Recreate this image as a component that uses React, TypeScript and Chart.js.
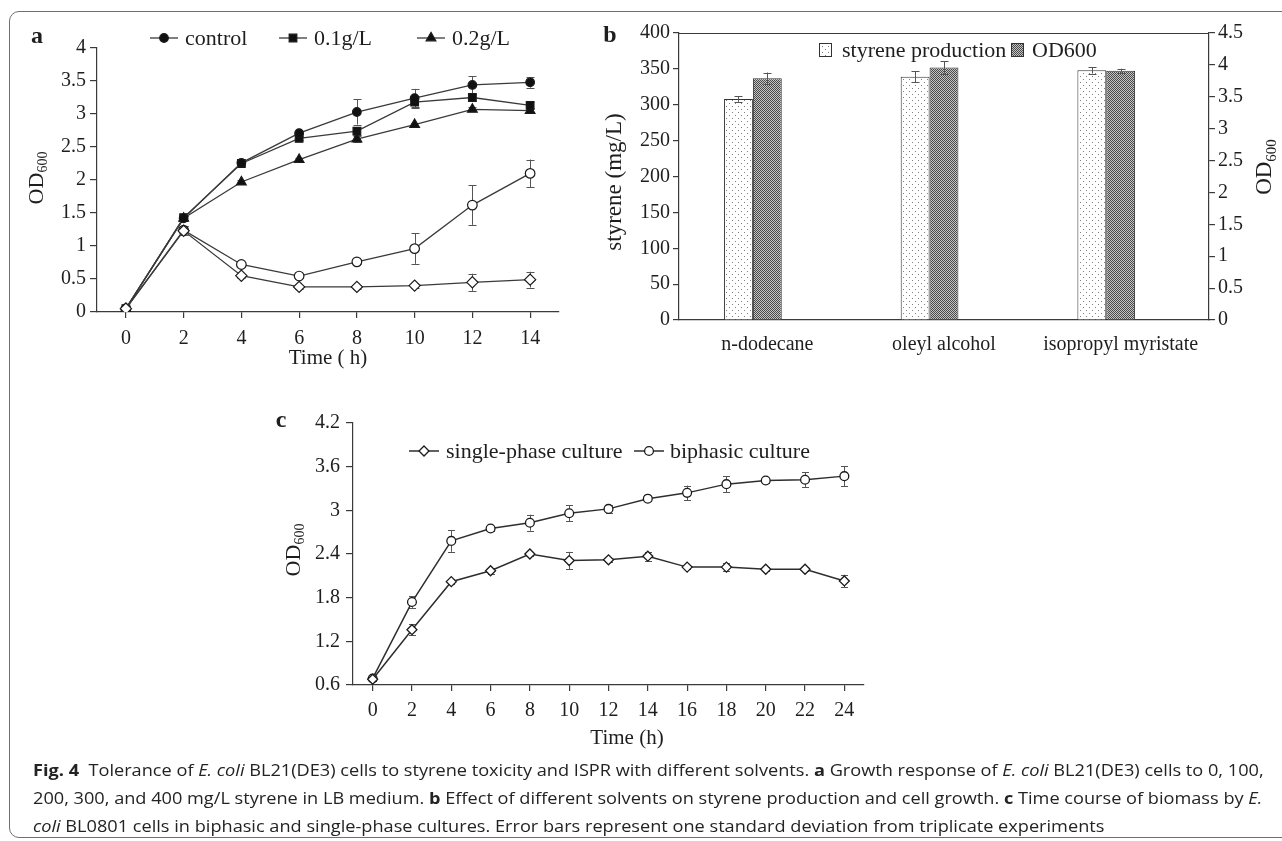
import React, { useEffect, useRef } from 'react';
import { Chart, registerables } from 'chart.js';

Chart.register(...registerables);

const SERIF = "'Liberation Serif', 'Times New Roman', serif";
const INK = '#1e1e1e';
const LINE = '#3a3a3a';
const ERR = '#555555';

// ---------- Panel a ----------
const aTime = [0, 2, 4, 6, 8, 10, 12, 14];
const aTimeTickLabels = ['0', '2', '4', '6', '8', '10', '12', '14'];
const aODTicks = [0, 0.5, 1, 1.5, 2, 2.5, 3, 3.5, 4];
const aODTickLabels = ['0', '0.5', '1', '1.5', '2', '2.5', '3', '3.5', '4'];
const aSeriesLabels = ['control', '0.1g/L', '0.2g/L', '0.3g/L', '0.4g/L'];
const aControl = [0.05, 1.42, 2.26, 2.71, 3.03, 3.24, 3.44, 3.48];
const aControlErr = [0.02, 0.03, 0.03, 0.04, 0.19, 0.14, 0.13, 0.08];
const a01 = [0.05, 1.43, 2.25, 2.63, 2.74, 3.18, 3.25, 3.13];
const a01Err = [0.02, 0.03, 0.03, 0.03, 0.06, 0.09, 0.05, 0.05];
const a02 = [0.05, 1.42, 1.97, 2.31, 2.62, 2.84, 3.07, 3.05];
const a02Err = [0.02, 0.03, 0.03, 0.03, 0.04, 0.03, 0.03, 0.04];
const a03 = [0.05, 1.24, 0.72, 0.545, 0.76, 0.96, 1.62, 2.1];
const a03Err = [0.02, 0.07, 0.04, 0.03, 0.04, 0.23, 0.3, 0.21];
const a04 = [0.05, 1.23, 0.55, 0.38, 0.38, 0.4, 0.45, 0.49];
const a04Err = [0.02, 0.07, 0.03, 0.03, 0.03, 0.03, 0.13, 0.12];

// ---------- Panel b ----------
const bSolvents = ['n-dodecane', 'oleyl alcohol', 'isopropyl myristate'];
const bSeriesLabels = ['styrene production', 'OD600'];
const bStyrene = [308, 339, 348];
const bStyreneErr = [4, 7.5, 4.5];
const bOD = [3.79, 3.96, 3.91];
const bODErr = [0.09, 0.1, 0.03];
const bSpacer = [0, 0, 0];
const bStyreneTicks = [0, 50, 100, 150, 200, 250, 300, 350, 400];
const bStyreneTickLabels = ['0', '50', '100', '150', '200', '250', '300', '350', '400'];
const bODTicks = [0, 0.5, 1, 1.5, 2, 2.5, 3, 3.5, 4, 4.5];
const bODTickLabels = ['0', '0.5', '1', '1.5', '2', '2.5', '3', '3.5', '4', '4.5'];

// ---------- Panel c ----------
const cTime = [0, 2, 4, 6, 8, 10, 12, 14, 16, 18, 20, 22, 24];
const cTimeTickLabels = ['0', '2', '4', '6', '8', '10', '12', '14', '16', '18', '20', '22', '24'];
const cODTicks = [0.6, 1.2, 1.8, 2.4, 3, 3.6, 4.2];
const cODTickLabels = ['0.6', '1.2', '1.8', '2.4', '3', '3.6', '4.2'];
const cSeriesLabels = ['single-phase culture', 'biphasic culture'];
const cSingle = [0.68, 1.36, 2.02, 2.17, 2.4, 2.31, 2.32, 2.37, 2.22, 2.22, 2.19, 2.19, 2.03];
const cSingleErr = [0.02, 0.075, 0.03, 0.04, 0.03, 0.12, 0.03, 0.06, 0.03, 0.055, 0.03, 0.03, 0.085];
const cBiphasic = [0.69, 1.74, 2.58, 2.75, 2.83, 2.96, 3.02, 3.16, 3.24, 3.36, 3.41, 3.42, 3.47];
const cBiphasicErr = [0.02, 0.08, 0.15, 0.03, 0.11, 0.11, 0.06, 0.03, 0.1, 0.11, 0.03, 0.1, 0.14];

// ---------- drawing helpers ----------
function drawMarker(ctx: CanvasRenderingContext2D, style: string, x: number, y: number, r: number, fill: any, stroke: string, lw: number) {
  ctx.beginPath();
  if (style === 'rect') {
    const s = r * Math.SQRT1_2;
    ctx.rect(x - s, y - s, 2 * s, 2 * s);
  } else if (style === 'triangle') {
    ctx.moveTo(x, y - r);
    ctx.lineTo(x + r * Math.sin((2 * Math.PI) / 3), y - r * Math.cos((2 * Math.PI) / 3));
    ctx.lineTo(x + r * Math.sin((4 * Math.PI) / 3), y - r * Math.cos((4 * Math.PI) / 3));
    ctx.closePath();
  } else if (style === 'rectRot') {
    ctx.moveTo(x, y - r);
    ctx.lineTo(x + r, y);
    ctx.lineTo(x, y + r);
    ctx.lineTo(x - r, y);
    ctx.closePath();
  } else {
    ctx.arc(x, y, r, 0, Math.PI * 2);
  }
  ctx.fillStyle = fill;
  ctx.fill();
  ctx.lineWidth = lw;
  ctx.strokeStyle = stroke;
  ctx.stroke();
}

type TextItem = { text: string; sub?: string; x: number; y: number; size: number; subSize?: number; bold?: boolean; rotate?: boolean };

function textPlugin(id: string, items: TextItem[]) {
  return {
    id,
    afterDraw(chart: any) {
      const ctx: CanvasRenderingContext2D = chart.ctx;
      ctx.save();
      ctx.fillStyle = INK;
      ctx.textBaseline = 'middle';
      ctx.textAlign = 'left';
      for (const it of items) {
        ctx.save();
        ctx.translate(it.x, it.y);
        if (it.rotate) ctx.rotate(-Math.PI / 2);
        const main = `${it.bold ? 'bold ' : ''}${it.size}px ${SERIF}`;
        const subF = `${it.subSize || 12}px ${SERIF}`;
        ctx.font = main;
        const w1 = ctx.measureText(it.text).width;
        let w2 = 0;
        if (it.sub) {
          ctx.font = subF;
          w2 = ctx.measureText(it.sub).width;
        }
        const x0 = -(w1 + w2) / 2;
        ctx.font = main;
        ctx.fillText(it.text, x0, 0);
        if (it.sub) {
          ctx.font = subF;
          ctx.fillText(it.sub, x0 + w1, it.size * 0.3);
        }
        ctx.restore();
      }
      ctx.restore();
    },
  };
}

function lineLegendPlugin(id: string, items: { ds: number; x1: number; x2: number; tx: number }[], y: number, size: number) {
  return {
    id,
    afterDraw(chart: any) {
      const ctx: CanvasRenderingContext2D = chart.ctx;
      ctx.save();
      for (const it of items) {
        const ds = chart.data.datasets[it.ds];
        ctx.strokeStyle = ds.borderColor;
        ctx.lineWidth = ds.borderWidth;
        ctx.beginPath();
        ctx.moveTo(it.x1, y);
        ctx.lineTo(it.x2, y);
        ctx.stroke();
        drawMarker(ctx, ds.pointStyle, (it.x1 + it.x2) / 2, y, ds.pointRadius, ds.pointBackgroundColor, ds.pointBorderColor, ds.pointBorderWidth);
        ctx.fillStyle = INK;
        ctx.font = `${size}px ${SERIF}`;
        ctx.textAlign = 'left';
        ctx.textBaseline = 'middle';
        ctx.fillText(ds.label, it.tx, y + 1);
      }
      ctx.restore();
    },
  };
}

function boxLegendPlugin(id: string, items: { ds: number; bx: number; tx: number }[], y: number, bw: number, bh: number, size: number) {
  return {
    id,
    afterDraw(chart: any) {
      const ctx: CanvasRenderingContext2D = chart.ctx;
      ctx.save();
      for (const it of items) {
        const ds = chart.data.datasets[it.ds];
        ctx.fillStyle = ds.backgroundColor;
        ctx.fillRect(it.bx, y - bh / 2, bw, bh);
        ctx.strokeStyle = '#333';
        ctx.lineWidth = 1;
        ctx.strokeRect(it.bx + 0.5, y - bh / 2 + 0.5, bw - 1, bh - 1);
        ctx.fillStyle = INK;
        ctx.font = `${size}px ${SERIF}`;
        ctx.textAlign = 'left';
        ctx.textBaseline = 'middle';
        ctx.fillText(ds.label, it.tx, y + 1);
      }
      ctx.restore();
    },
  };
}

function errorBarPlugin(id: string, phase: 'before' | 'after', cap: number) {
  const draw = (chart: any) => {
    const ctx: CanvasRenderingContext2D = chart.ctx;
    ctx.save();
    ctx.strokeStyle = ERR;
    ctx.lineWidth = 1;
    chart.data.datasets.forEach((ds: any, i: number) => {
      if (!ds.errors) return;
      const meta = chart.getDatasetMeta(i);
      const vs = meta.vScale;
      meta.data.forEach((el: any, j: number) => {
        const e = ds.errors[j];
        if (!e) return;
        const p = meta.controller.getParsed(j);
        const v = p[vs.axis];
        const y1 = vs.getPixelForValue(v + e);
        const y2 = vs.getPixelForValue(v - e);
        const x = Math.round(el.x) + 0.5;
        ctx.beginPath();
        ctx.moveTo(x, y1);
        ctx.lineTo(x, y2);
        ctx.moveTo(x - cap, Math.round(y1) + 0.5);
        ctx.lineTo(x + cap, Math.round(y1) + 0.5);
        ctx.moveTo(x - cap, Math.round(y2) + 0.5);
        ctx.lineTo(x + cap, Math.round(y2) + 0.5);
        ctx.stroke();
      });
    });
    ctx.restore();
  };
  return phase === 'before' ? { id, beforeDatasetsDraw: draw } : { id, afterDatasetsDraw: draw };
}

const topFramePlugin = {
  id: 'topFrame',
  afterDraw(chart: any) {
    const ctx: CanvasRenderingContext2D = chart.ctx;
    const { left, right, top } = chart.chartArea;
    ctx.save();
    ctx.strokeStyle = LINE;
    ctx.lineWidth = 1.2;
    ctx.beginPath();
    ctx.moveTo(left, Math.round(top) + 0.5);
    ctx.lineTo(right, Math.round(top) + 0.5);
    ctx.stroke();
    ctx.restore();
  },
};

function dotPattern(): CanvasPattern | string {
  const c = document.createElement('canvas');
  c.width = 6;
  c.height = 6;
  const g = c.getContext('2d');
  if (!g) return '#fff';
  g.fillStyle = '#ffffff';
  g.fillRect(0, 0, 6, 6);
  g.fillStyle = '#808080';
  g.fillRect(1, 1, 1, 1);
  g.fillRect(4, 4, 1, 1);
  return g.createPattern(c, 'repeat') || '#fff';
}

function checkPattern(): CanvasPattern | string {
  const c = document.createElement('canvas');
  c.width = 2;
  c.height = 2;
  const g = c.getContext('2d');
  if (!g) return '#888';
  g.fillStyle = '#c4c4c4';
  g.fillRect(0, 0, 2, 2);
  g.fillStyle = '#4a4a4a';
  g.fillRect(0, 0, 1, 1);
  g.fillRect(1, 1, 1, 1);
  return g.createPattern(c, 'repeat') || '#888';
}

const TICK = 20;
const tickFont = (size: number) => ({ family: SERIF, size });
const axisGrid = (len: number) => ({ drawOnChartArea: false, drawTicks: true, tickLength: len, color: LINE, lineWidth: 1.2 });
const axisBorder = { display: true, color: LINE, width: 1.2 };
const fixedTicks = (vals: number[]) => (s: any) => {
  s.ticks = vals.map((v) => ({ value: v }));
};

// ---------- chart configs ----------
function buildA(): any {
  const mk = (i: number, data: number[], err: number[], style: string, r: number, fill: string, order: number) => ({
    label: aSeriesLabels[i],
    data: data.map((v, k) => ({ x: aTime[k], y: v })),
    errors: err,
    borderColor: LINE,
    borderWidth: 1.3,
    pointStyle: style,
    pointRadius: r,
    pointBackgroundColor: fill,
    pointBorderColor: '#1a1a1a',
    pointBorderWidth: 1.2,
    tension: 0,
    fill: false,
    order,
  });
  return {
    type: 'line',
    data: {
      datasets: [
        mk(0, aControl, aControlErr, 'circle', 4.3, '#111', 2),
        mk(1, a01, a01Err, 'rect', 5.4, '#111', 2),
        mk(2, a02, a02Err, 'triangle', 5.6, '#111', 2),
        mk(3, a03, a03Err, 'circle', 4.8, '#fff', 1),
        mk(4, a04, a04Err, 'rectRot', 5.6, '#fff', 0),
      ],
    },
    options: {
      animation: false,
      responsive: false,
      devicePixelRatio: 1,
      layout: { padding: { top: 48, right: 21, left: 0, bottom: 0 } },
      plugins: { legend: { display: false }, tooltip: { enabled: false } },
      scales: {
        x: {
          type: 'linear',
          min: -1,
          max: 15,
          afterBuildTicks: fixedTicks(aTime),
          afterFit: (s: any) => {
            s.height = 68;
          },
          grid: axisGrid(6),
          border: axisBorder,
          ticks: { font: tickFont(TICK), color: INK, padding: 9, maxRotation: 0, autoSkip: false, callback: (_v: any, i: number) => aTimeTickLabels[i] },
        },
        y: {
          type: 'linear',
          min: 0,
          max: 4,
          afterBuildTicks: fixedTicks(aODTicks),
          afterFit: (s: any) => {
            s.width = 97;
          },
          grid: axisGrid(7),
          border: axisBorder,
          ticks: { font: tickFont(TICK), color: INK, padding: 4, autoSkip: false, callback: (_v: any, i: number) => aODTickLabels[i] },
        },
      },
    },
    plugins: [
      errorBarPlugin('errA', 'before', 4),
      lineLegendPlugin(
        'legA',
        [
          { ds: 0, x1: 150, x2: 178, tx: 185 },
          { ds: 1, x1: 279, x2: 307, tx: 314 },
          { ds: 2, x1: 417, x2: 445, tx: 452 },
        ],
        38,
        22
      ),
      textPlugin('txtA', [
        { text: 'a', x: 37, y: 37, size: 24, bold: true },
        { text: 'OD', sub: '600', x: 37, y: 178, size: 22, subSize: 14, rotate: true },
        { text: 'Time ( h)', x: 328, y: 358, size: 21 },
      ]),
    ],
  };
}

function buildB(): any {
  return {
    type: 'bar',
    data: {
      labels: bSolvents,
      datasets: [
        { label: bSeriesLabels[0], data: bStyrene, errors: bStyreneErr, yAxisID: 'y', backgroundColor: dotPattern(), borderColor: '#333', borderWidth: 1 },
        { label: bSeriesLabels[1], data: bOD, errors: bODErr, yAxisID: 'y1', backgroundColor: checkPattern(), borderColor: '#333', borderWidth: 1 },
        { label: '', data: bSpacer, yAxisID: 'y', backgroundColor: 'rgba(0,0,0,0)', borderColor: 'rgba(0,0,0,0)', borderWidth: 0 },
      ],
    },
    options: {
      animation: false,
      responsive: false,
      devicePixelRatio: 1,
      categoryPercentage: 0.49,
      barPercentage: 1,
      layout: { padding: { top: 33, right: 13, left: 0, bottom: 0 } },
      plugins: { legend: { display: false }, tooltip: { enabled: false } },
      scales: {
        x: {
          afterFit: (s: any) => {
            s.height = 60;
          },
          grid: { display: false, drawTicks: false },
          border: axisBorder,
          ticks: { font: tickFont(TICK), color: INK, padding: 13, maxRotation: 0, autoSkip: false },
        },
        y: {
          position: 'left',
          min: 0,
          max: 400,
          afterBuildTicks: fixedTicks(bStyreneTicks),
          afterFit: (s: any) => {
            s.width = 119;
          },
          grid: axisGrid(6),
          border: axisBorder,
          ticks: { font: tickFont(TICK), color: INK, padding: 3, autoSkip: false, callback: (_v: any, i: number) => bStyreneTickLabels[i] },
        },
        y1: {
          position: 'right',
          min: 0,
          max: 4.5,
          afterBuildTicks: fixedTicks(bODTicks),
          afterFit: (s: any) => {
            s.width = 60;
          },
          grid: axisGrid(6),
          border: axisBorder,
          ticks: { font: tickFont(TICK), color: INK, padding: 3, autoSkip: false, callback: (_v: any, i: number) => bODTickLabels[i] },
        },
      },
    },
    plugins: [
      errorBarPlugin('errB', 'after', 4),
      topFramePlugin,
      boxLegendPlugin(
        'legB',
        [
          { ds: 0, bx: 259, tx: 282 },
          { ds: 1, bx: 451, tx: 472 },
        ],
        50,
        13,
        14,
        22
      ),
      textPlugin('txtB', [
        { text: 'b', x: 50, y: 36, size: 24, bold: true },
        { text: 'styrene (mg/L)', x: 55, y: 182, size: 23, rotate: true },
        { text: 'OD', sub: '600', x: 705, y: 167, size: 23, subSize: 15, rotate: true },
      ]),
    ],
  };
}

function buildC(): any {
  const mk = (i: number, data: number[], err: number[], style: string, r: number) => ({
    label: cSeriesLabels[i],
    data: data.map((v, k) => ({ x: cTime[k], y: v })),
    errors: err,
    borderColor: '#2e2e2e',
    borderWidth: 1.5,
    pointStyle: style,
    pointRadius: r,
    pointBackgroundColor: '#fff',
    pointBorderColor: '#1a1a1a',
    pointBorderWidth: 1.3,
    tension: 0,
    fill: false,
  });
  return {
    type: 'line',
    data: {
      datasets: [mk(0, cSingle, cSingleErr, 'rectRot', 5), mk(1, cBiphasic, cBiphasicErr, 'circle', 4.4)],
    },
    options: {
      animation: false,
      responsive: false,
      devicePixelRatio: 1,
      layout: { padding: { top: 33, right: 36, left: 0, bottom: 0 } },
      plugins: { legend: { display: false }, tooltip: { enabled: false } },
      scales: {
        x: {
          type: 'linear',
          min: -1,
          max: 25,
          afterBuildTicks: fixedTicks(cTime),
          afterFit: (s: any) => {
            s.height = 75;
          },
          grid: axisGrid(6),
          border: axisBorder,
          ticks: { font: tickFont(TICK), color: INK, padding: 8, maxRotation: 0, autoSkip: false, callback: (_v: any, i: number) => cTimeTickLabels[i] },
        },
        y: {
          type: 'linear',
          min: 0.6,
          max: 4.2,
          afterBuildTicks: fixedTicks(cODTicks),
          afterFit: (s: any) => {
            s.width = 103;
          },
          grid: axisGrid(7),
          border: axisBorder,
          ticks: { font: tickFont(TICK), color: INK, padding: 6, autoSkip: false, callback: (_v: any, i: number) => cODTickLabels[i] },
        },
      },
    },
    plugins: [
      errorBarPlugin('errC', 'before', 3.5),
      lineLegendPlugin(
        'legC',
        [
          { ds: 0, x1: 159, x2: 189, tx: 196 },
          { ds: 1, x1: 384, x2: 414, tx: 420 },
        ],
        61,
        22
      ),
      textPlugin('txtC', [
        { text: 'c', x: 31, y: 31, size: 24, bold: true },
        { text: 'OD', sub: '600', x: 44, y: 160, size: 22, subSize: 14, rotate: true },
        { text: 'Time (h)', x: 377, y: 348, size: 21 },
      ]),
    ],
  };
}

function ChartBox(props: { left: number; top: number; width: number; height: number; build: () => any }) {
  const ref = useRef<HTMLCanvasElement | null>(null);
  const { left, top, width, height, build } = props;
  useEffect(() => {
    if (!ref.current) return;
    const chart = new Chart(ref.current, build());
    return () => chart.destroy();
  }, [build]);
  return <canvas ref={ref} width={width} height={height} style={{ position: 'absolute', left, top, width, height }} />;
}

export default function App() {
  return (
    <div style={{ position: 'absolute', left: 0, top: 0, width: 1282, height: 841, overflow: 'hidden', background: '#fff' }}>
      <div
        style={{
          position: 'absolute',
          left: 9,
          top: 11,
          width: 1300,
          height: 827,
          border: '1.5px solid #707070',
          borderRadius: 10,
          boxSizing: 'border-box',
        }}
      />
      <ChartBox left={0} top={0} width={580} height={380} build={buildA} />
      <ChartBox left={560} top={0} width={722} height={380} build={buildB} />
      <ChartBox left={250} top={390} width={650} height={370} build={buildC} />
      <div
        style={{
          position: 'absolute',
          left: 33,
          top: 756,
          fontFamily: "'Open Sans', 'Noto Sans', sans-serif",
          fontSize: 16,
          lineHeight: '28px',
          color: '#232323',
          whiteSpace: 'pre',
          transform: 'scaleX(1.135)',
          transformOrigin: 'left top',
        }}
      >
        <div>
          <b>Fig. 4</b>
          {'  Tolerance of '}
          <i>E. coli</i>
          {' BL21(DE3) cells to styrene toxicity and ISPR with different solvents. '}
          <b>a</b>
          {' Growth response of '}
          <i>E. coli</i>
          {' BL21(DE3) cells to 0, 100,'}
        </div>
        <div>
          {'200, 300, and 400 mg/L styrene in LB medium. '}
          <b>b</b>
          {' Effect of different solvents on styrene production and cell growth. '}
          <b>c</b>
          {' Time course of biomass by '}
          <i>E.</i>
        </div>
        <div>
          <i>coli</i>
          {' BL0801 cells in biphasic and single-phase cultures. Error bars represent one standard deviation from triplicate experiments'}
        </div>
      </div>
    </div>
  );
}
